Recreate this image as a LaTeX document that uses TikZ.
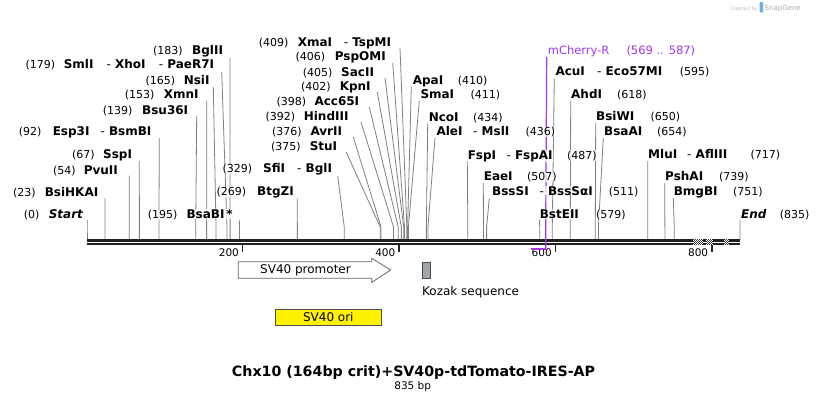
\documentclass[tikz,border=0pt]{standalone}
\usepackage{fontspec}
\setmainfont{DejaVu Sans}
\definecolor{cutgray}{RGB}{128,128,128}
\definecolor{prim}{RGB}{163,55,235}
\definecolor{kozak}{RGB}{160,165,172}
\definecolor{sglogo}{RGB}{110,175,230}
\tikzset{
  cutline/.style={draw=cutgray, line width=0.8pt},
  lab/.style={inner sep=0.3pt, anchor=base west, fill=white, fill opacity=0.75, text opacity=1},
  num/.style={lab, font=\fontsize{11}{13}\selectfont},
  enz/.style={lab, font=\fontsize{12}{14}\selectfont\bfseries},
  primlab/.style={lab, text=prim, font=\fontsize{11.5}{13}\selectfont},
  feat/.style={draw=black!60, line width=0.8pt},
  featlab/.style={inner sep=0pt, font=\fontsize{12}{14}\selectfont},
  ticklab/.style={inner sep=0pt, anchor=base east, font=\fontsize{10.5}{12}\selectfont},
}
\newcommand\cutsite[4]{%
  \coordinate (#1t) at (#2,#3);
  \coordinate (#1m) at ({87+0.782*#4},227);
  \coordinate (#1b) at ({87+0.782*#4},239.5);
  \draw[cutline] (#1t) -- (#1m) -- (#1b);}
\newcommand\nm[4]{\node[num] (#1) at (#2,#3) {#4};}
\newcommand\ez[4]{\node[enz] (#1) at (#2,#3) {#4};}
\newcommand\dz[4]{\node[enz] (#1) at (#2,#3) {{\mdseries -}\ #4};}
\begin{document}
\begin{tikzpicture}[x=1pt,y=-1pt]
\useasboundingbox (0,0) rectangle (828,402);
\fill[white] (0,0) rectangle (828,402);

% watermark
\node[inner sep=0, anchor=base west, text=black!25, font=\fontsize{5}{6}\selectfont] (wm1) at (730,10) {Created by};
\fill[sglogo, rounded corners=1pt] (759.5,2) rectangle (763,12.5);
\node[inner sep=0, anchor=base west, text=black!32, font=\fontsize{7}{8}\selectfont] (wm2) at (764.5,10.5) {SnapGene};

% cut-site lines
\cutsite{Start}{87}{220}{0}
\cutsite{BsiHKAI}{105}{198.3}{23}
\cutsite{PvuII}{129.3}{175.7}{54}
\cutsite{SspI}{139.3}{161}{67}
\cutsite{EspI}{159.3}{138}{92}
\cutsite{Bsu}{196.7}{116}{139}
\cutsite{XmnI}{206.7}{100.7}{153}
\cutsite{NsiI}{213.3}{87}{165}
\cutsite{SmlI}{221.7}{72}{179}
\cutsite{BglII}{230}{58}{183}
\cutsite{BsaBI}{239.3}{220}{195}
\cutsite{BtgZI}{297.3}{198.3}{269}
\cutsite{SfiI}{337.7}{176}{329}
\cutsite{StuI}{346}{151.7}{375}
\cutsite{AvrII}{353.3}{137}{376}
\cutsite{HindIII}{361}{122}{392}
\cutsite{Acc}{369.3}{107}{398}
\cutsite{KpnI}{377.3}{92}{402}
\cutsite{SacII}{385}{78}{405}
\cutsite{PspOMI}{392.7}{63}{406}
\cutsite{XmaI}{400}{48}{409}
\cutsite{ApaI}{411.3}{86}{410}
\cutsite{SmaI}{419.3}{100.7}{411}
\cutsite{NcoI}{427.7}{123}{434}
\cutsite{AleI}{435}{138}{436}
\cutsite{FspI}{467.3}{161}{487}
\cutsite{EaeI}{483.3}{183}{507}
\cutsite{BssSI}{489.3}{198.3}{511}
\cutsite{BstEII}{539.3}{220}{579}
\cutsite{AcuI}{554.3}{78.3}{595}
\cutsite{AhdI}{570.7}{101}{618}
\cutsite{BsiWI}{595.7}{123}{650}
\cutsite{BsaAI}{603.3}{138}{654}
\cutsite{MluI}{647.7}{161}{717}
\cutsite{PshAI}{664.7}{183}{739}
\cutsite{BmgBI}{673.3}{198}{751}
\cutsite{End}{740}{220}{835}

% backbone
\fill[black!88] (87,239.3) rectangle (740.3,245.3);
\draw[white, line width=0.6pt] (87,242.3) -- (740.3,242.3);
\foreach \a/\n in {693.3/10, 706/7, 724/5}{
  \fill[white] (\a,239.3) rectangle ++(\n,6);
  \foreach \i in {1,...,\n}{
    \foreach \j in {1,...,6}{
      \pgfmathtruncatemacro\myparity{mod(\i+\j,2)}
      \ifnum\myparity=0 \fill[black!80] ({\a+\i-1},{239.3+\j-1}) rectangle ++(1,1); \fi
    }
  }
}
% ticks
\foreach \v in {200,400,600,800}{
  \draw[line width=1.4pt, black!85] ({87+0.782*(\v-1)},245) -- ({87+0.782*(\v-1)},252);
  \node[ticklab] (tick\v) at ({87+0.782*(\v-1)-3.5},256) {\v};
}

% primer
\draw[prim, line width=1.2pt] (546.7,57) -- (545.7,227) -- (545.7,248.7);
\fill[prim] (531.2,247.7) rectangle (546.3,249.7);

% features
\draw[feat, fill=white] (238.3,261.7) -- (371.7,261.7) -- (371.7,258.3) -- (390.7,270) -- (371.7,282.3) -- (371.7,278.3) -- (238.3,278.3) -- cycle;
\node[featlab, anchor=base] (prom) at (305.5,273) {SV40 promoter};
\draw[feat, draw=black!70, fill=kozak] (422.3,262.3) rectangle (430.7,278.3);
\node[featlab, anchor=base west] (koz) at (422,295) {Kozak sequence};
\draw[feat, draw=black!70, fill=yellow] (275,309.3) rectangle (381.5,325);
\node[featlab, anchor=base] (ori) at (328.3,321) {SV40 ori};

% labels, left group
\nm{n183}{152.7}{54}{(183)} \ez{e183}{191.7}{54}{BglII}
\nm{n179}{25}{68.3}{(179)} \ez{e179a}{63.3}{68.3}{SmlI} \dz{e179b}{106}{68.3}{XhoI} \dz{e179c}{158.3}{68.3}{PaeR7I}
\nm{n165}{145}{84}{(165)} \ez{e165}{183.3}{84}{NsiI}
\nm{n153}{124.3}{98.3}{(153)} \ez{e153}{163.3}{98.3}{XmnI}
\nm{n139}{102.3}{114}{(139)} \ez{e139}{141.7}{114}{Bsu36I}
\nm{n92}{18.3}{135.3}{(92)} \ez{e92a}{52.3}{135.3}{Esp3I} \dz{e92b}{100}{135.3}{BsmBI}
\nm{n67}{71.7}{158.3}{(67)} \ez{e67}{102.7}{158.3}{SspI}
\nm{n54}{52.7}{174}{(54)} \ez{e54}{83.3}{174}{PvuII}
\nm{n23}{12.7}{196}{(23)} \ez{e23}{44.3}{196}{BsiHKAI}
\nm{n0}{23.3}{218.3}{(0)} \ez{e0}{48.3}{218.3}{\itshape Start}
\nm{n195}{147.3}{218.3}{(195)} \ez{e195}{186}{218.3}{BsaBI\,*}
\nm{n329}{222}{172.7}{(329)} \ez{e329a}{262.7}{172.7}{SfiI} \dz{e329b}{296.7}{172.7}{BglI}
\nm{n269}{216}{195.7}{(269)} \ez{e269}{256.7}{195.7}{BtgZI}
\nm{n375}{270.7}{150}{(375)} \ez{e375}{309.3}{150}{StuI}
\nm{n376}{271.7}{135}{(376)} \ez{e376}{310}{135}{AvrII}
\nm{n392}{265}{120.7}{(392)} \ez{e392}{303.3}{120.7}{HindIII}
\nm{n398}{276}{105}{(398)} \ez{e398}{314}{105}{Acc65I}
\nm{n402}{300.7}{90.7}{(402)} \ez{e402}{339.3}{90.7}{KpnI}
\nm{n405}{302.3}{76}{(405)} \ez{e405}{340.7}{76}{SacII}
\nm{n406}{295}{60.7}{(406)} \ez{e406}{334.3}{60.7}{PspOMI}
\nm{n409}{258.3}{46}{(409)} \ez{e409a}{297.3}{46}{XmaI} \dz{e409b}{343.3}{46}{TspMI}

% labels, right group
\ez{e410}{412.3}{84}{ApaI} \nm{n410}{457.3}{84}{(410)}
\ez{e411}{420}{98.3}{SmaI} \nm{n411}{470}{98.3}{(411)}
\ez{e434}{428.3}{121}{NcoI} \nm{n434}{472.7}{121}{(434)}
\ez{e436a}{436}{135.7}{AleI} \dz{e436b}{472.7}{135.7}{MslI} \nm{n436}{525}{135.7}{(436)}
\ez{e487a}{467.3}{159}{FspI} \dz{e487b}{506}{159}{FspAI} \nm{n487}{566.7}{159}{(487)}
\ez{e507}{483.3}{180.7}{EaeI} \nm{n507}{526.7}{180.7}{(507)}
\ez{e511a}{491.7}{195}{BssSI} \dz{e511b}{539}{195}{BssSαI} \nm{n511}{608.3}{195}{(511)}
\ez{e579}{539.3}{218.3}{BstEII} \nm{n579}{595.7}{218.3}{(579)}
\node[primlab] (pr1) at (547.3,54) {mCherry-R};
\node[primlab] (pr2) at (626,54) {(569 .. 587)};
\ez{e595a}{555}{75}{AcuI} \dz{e595b}{596.7}{75}{Eco57MI} \nm{n595}{679.3}{75}{(595)}
\ez{e618}{570.7}{98.3}{AhdI} \nm{n618}{616.7}{98.3}{(618)}
\ez{e650}{595.7}{120.7}{BsiWI} \nm{n650}{650}{120.7}{(650)}
\ez{e654}{603.7}{135}{BsaAI} \nm{n654}{656.7}{135}{(654)}
\ez{e717a}{647.7}{158.3}{MluI} \dz{e717b}{686.7}{158.3}{AflIII} \nm{n717}{750}{158.3}{(717)}
\ez{e739}{664.7}{180}{PshAI} \nm{n739}{718.7}{180}{(739)}
\ez{e751}{673.3}{195.7}{BmgBI} \nm{n751}{732.7}{195.7}{(751)}
\ez{e835}{740.7}{218.3}{\itshape End} \nm{n835}{779.3}{218.3}{(835)}

% title
\node[inner sep=0, anchor=base, font=\fontsize{14.2}{17}\selectfont\bfseries] (title) at (413.5,376) {Chx10 (164bp crit)+SV40p-tdTomato-IRES-AP};
\node[inner sep=0, anchor=base, font=\fontsize{10.5}{12}\selectfont] (len) at (412.7,389.5) {835 bp};
\end{tikzpicture}
\end{document}
